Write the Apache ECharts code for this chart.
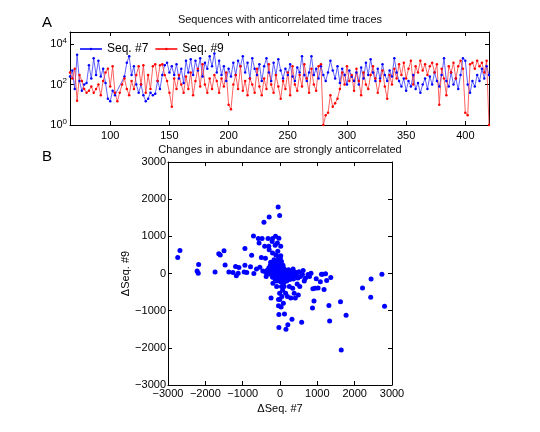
<!DOCTYPE html>
<html><head><meta charset="utf-8">
<script src="https://cdn.jsdelivr.net/npm/echarts@6/dist/echarts.min.js"></script>
<style>html,body{margin:0;padding:0;background:#fff}#c{width:540px;height:432px}</style>
</head><body><div id="c"></div>
<script>
// ---- Panel A: time traces ----
const time = [
  66,68,70,72,74,76,78,80,82,84,
  86,88,90,92,94,96,98,100,102,104,
  106,108,110,112,114,116,118,120,122,124,
  126,128,130,132,134,136,138,140,142,144,
  146,148,150,152,154,156,158,160,162,164,
  166,168,170,172,174,176,178,180,182,184,
  186,188,190,192,194,196,198,200,202,204,
  206,208,210,212,214,216,218,220,222,224,
  226,228,230,232,234,236,238,240,242,244,
  246,248,250,252,254,256,258,260,262,264,
  266,268,270,272,274,276,278,280,282,284,
  286,288,290,292,294,296,298,300,302,304,
  306,308,310,312,314,316,318,320,322,324,
  326,328,330,332,334,336,338,340,342,344,
  346,348,350,352,354,356,358,360,362,364,
  366,368,370,372,374,376,378,380,382,384,
  386,388,390,392,394,396,398,400,402,404,
  406,408,410,412,414,416,418,420
];
const seq7 = [
  250,500,60,3000,150,50,100,120,900,200,
  2000,300,1500,250,600,120,20,15,50,30,
  null,null,null,250,1200,2500,300,800,100,40,
  100,30,15,20,40,30,35,150,60,300,
  900,1200,400,800,300,1000,200,600,120,1500,
  400,1800,300,1500,500,2000,250,1200,600,2500,
  800,3500,400,1500,300,800,150,600,250,1200,
  300,1500,800,2500,400,1200,200,2000,600,300,
  1000,150,800,2000,400,150,1200,300,1800,500,
  200,600,300,1000,250,150,700,400,2500,300,
  150,400,2500,300,600,200,800,300,150,400,
  1500,500,200,800,120,600,300,100,500,250,
  150,400,100,700,200,1200,300,1800,400,150,
  600,200,1000,300,150,500,250,2000,400,150,
  80,200,50,150,80,300,60,120,40,100,
  200,60,250,100,400,150,80,300,2000,150,
  80,400,100,200,60,300,2000,1500,100,40,
  150,80,300,150,600,200,800,300
];
const seq9 = [
  400,200,600,16,300,150,60,40,50,80,
  40,60,100,30,150,400,600,80,800,40,
  15,40,100,200,60,30,150,60,300,800,
  100,900,40,300,60,800,1000,150,900,1000,
  300,150,40,8,200,60,300,100,40,250,
  60,400,30,150,600,80,1000,100,40,200,
  60,300,150,40,200,80,400,10,6,100,
  300,60,800,50,150,30,200,100,40,600,
  80,30,200,60,1000,100,40,300,80,20,
  150,60,400,30,800,100,50,300,80,1000,
  200,40,600,100,50,800,1000,1,3,4,
  30,8,12,20,60,400,100,800,150,300,
  50,600,150,30,400,100,60,300,800,200,
  40,150,500,80,20,300,100,600,200,1000,
  300,1200,200,600,1500,100,800,400,1500,500,
  1000,300,800,1200,400,1000,10,600,200,30,
  800,400,1200,200,800,1500,600,4,3,1000,
  1200,600,1500,800,1200,400,1500,1
];
const timeTicks = [100,150,200,250,300,350,400];
const logTicks = [1,100,10000];

// ---- Panel B: changes in abundance ----
const dSeq7 = [
  -2740,-2680,-2180,-2220,-2190,-1740,-1640,-1600,-1500,-1470,-1370,-1260,-1190,-1170,-1100,-1120,
  -940,-940,-960,-890,-790,-760,-710,-700,-630,-580,-560,-540,-500,-480,-460,-430,-410,-390,-380,-370,
  -320,-300,-290,-290,-260,-240,-220,-210,-200,-200,-190,-170,-160,-150,-130,-120,-120,-110,-100,-90,
  -80,-70,-60,-50,-40,-40,-30,-10,-40,-30,-30,-10,0,10,20,30,40,40,50,60,80,90,100,110,120,130,150,160,
  180,200,210,230,250,270,290,300,320,340,350,380,390,410,430,460,490,510,530,550,580,620,680,750,790,
  830,870,880,910,940,970,1020,1080,1110,1140,1180,1220,1250,1310,1330,1360,1620,1640,1770,2210,2440,
  2430,2730,2800,
  -350,-320,-300,-280,-260,-250,-230,-210,-200,-190,-180,-160,-150,-140,-130,-120,-110,-100,-90,-80,
  -70,-60,-50,-40,-30,-20,-20,-10,0,10,20,30,40,50,60,70,80,90,100,120,140,160,180,200,220,240,260,280,
  320,360,400,440,480,600,650,-20,20,-60,70,-5,30,-40
];
const dSeq9 = [
  430,620,240,70,10,40,530,500,610,230,40,30,190,-60,160,10,
  670,220,40,30,180,490,1010,0,120,940,820,170,430,940,70,1380,730,410,30,-80,
  940,730,1520,640,220,-660,120,860,940,550,-260,140,370,-30,760,120,1000,500,10,-350,
  280,820,100,1790,410,-170,950,1560,-870,-1100,-1450,-530,210,-80,730,50,-350,320,-620,-10,-130,-800,140,-350,-1090,-60,-530,-1500,
  40,-620,-1380,100,-350,-80,-660,50,-1230,-400,120,-530,-80,-660,10,-280,-580,50,-350,-80,-1310,80,-130,-30,-80,
  10,-930,-410,-740,-400,-140,-390,-220,-20,-20,-430,-10,-190,-860,-1280,-110,-760,-2060,-1120,-390,-150,
  -640,-20,-880,
  80,20,150,60,-20,300,40,200,-100,90,30,-50,220,60,-150,300,-80,150,40,-200,
  200,-40,330,80,-120,250,20,-60,120,400,-220,150,-20,80,-150,30,220,-40,-250,60,-120,90,-200,10,-90,60,-160,20,
  -40,-150,40,-40,-120,-30,-200,450,480,600,-450,-700,-900,-700
];

const FONT = '"Liberation Sans", Arial, Helvetica, sans-serif';
const chart = echarts.init(document.getElementById('c'));
const minusFmt = v => String(v).replace('-', '\u2212');
const supFmt = v => {
  const l = Math.log10(v), e = Math.round(l);
  if (Math.abs(l - e) > 1e-6) return '';
  return '10{s|' + e + '}';
};
const axisLineStyle = {color: '#000', width: 1};
const axisLine = {onZero: false, lineStyle: axisLineStyle};
const labelStyle = {color: '#000', fontSize: 11, fontFamily: FONT};

const pts7 = time.map((t, i) => [t, seq7[i]]).filter(d => d[1] != null);
const pts9 = time.map((t, i) => [t, seq9[i]]).filter(d => d[1] != null);
const scatterPts = dSeq7.map((x, i) => [x, dSeq9[i]]);

const option = {
  animation: false,
  backgroundColor: '#fff',
  textStyle: {fontFamily: FONT},
  graphic: [
    {type: 'text', x: 47, y: 23, style: {text: 'A', font: '15px ' + FONT, fill: '#000', textAlign: 'center', textVerticalAlign: 'middle'}},
    {type: 'text', x: 47, y: 157, style: {text: 'B', font: '15px ' + FONT, fill: '#000', textAlign: 'center', textVerticalAlign: 'middle'}},
    {type: 'text', x: 280, y: 20, style: {text: 'Sequences with anticorrelated time traces', font: '11px ' + FONT, fill: '#111', textAlign: 'center', textVerticalAlign: 'middle'}},
    {type: 'text', x: 280, y: 150, style: {text: 'Changes in abundance are strongly anticorrelated', font: '11px ' + FONT, fill: '#111', textAlign: 'center', textVerticalAlign: 'middle'}}
  ],
  legend: {
    left: 74, top: 38, itemWidth: 22, itemHeight: 3, itemGap: 6,
    textStyle: {fontSize: 12, color: '#000', fontFamily: FONT},
    data: ['Seq. #7', 'Seq. #9']
  },
  grid: [
    {left: 70, top: 32, width: 419, height: 93},
    {left: 168, top: 162, width: 224, height: 223}
  ],
  xAxis: [
    {gridIndex: 0, type: 'value', min: 66, max: 420,
     axisLine: axisLine, splitLine: {show: false},
     axisTick: {inside: true, length: 4, lineStyle: axisLineStyle, customValues: timeTicks},
     axisLabel: Object.assign({margin: 5, customValues: timeTicks}, labelStyle)},
    {gridIndex: 0, type: 'value', position: 'top', min: 66, max: 420,
     axisLine: axisLine, splitLine: {show: false},
     axisTick: {inside: true, length: 4, lineStyle: axisLineStyle, customValues: timeTicks},
     axisLabel: {show: false}},
    {gridIndex: 1, type: 'value', min: -3000, max: 3000, interval: 1000,
     name: '\u0394Seq. #7', nameLocation: 'middle', nameGap: 14,
     nameTextStyle: {fontSize: 11, color: '#000', fontFamily: FONT},
     axisLine: axisLine, splitLine: {show: false},
     axisTick: {inside: true, length: 4, lineStyle: axisLineStyle},
     axisLabel: Object.assign({margin: 3, formatter: minusFmt}, labelStyle)},
    {gridIndex: 1, type: 'value', position: 'top', min: -3000, max: 3000, interval: 1000,
     axisLine: axisLine, splitLine: {show: false},
     axisTick: {inside: true, length: 4, lineStyle: axisLineStyle},
     axisLabel: {show: false}}
  ],
  yAxis: [
    {gridIndex: 0, type: 'log', logBase: 10, min: 1, max: 40000,
     axisLine: axisLine, splitLine: {show: false},
     axisTick: {inside: true, length: 4, lineStyle: axisLineStyle, customValues: logTicks},
     axisLabel: Object.assign({margin: 3, formatter: supFmt, customValues: logTicks,
       rich: {s: {fontSize: 8, padding: [0, 0, 7, 0], color: '#000', fontFamily: FONT}}}, labelStyle)},
    {gridIndex: 0, type: 'log', logBase: 10, min: 1, max: 40000, position: 'right',
     axisLine: axisLine, splitLine: {show: false},
     axisTick: {inside: true, length: 4, lineStyle: axisLineStyle, customValues: logTicks},
     axisLabel: {show: false}},
    {gridIndex: 1, type: 'value', min: -3000, max: 3000, interval: 1000,
     name: '\u0394Seq. #9', nameLocation: 'middle', nameGap: 37,
     nameTextStyle: {fontSize: 11, color: '#000', fontFamily: FONT},
     axisLine: axisLine, splitLine: {show: false},
     axisTick: {inside: true, length: 4, lineStyle: axisLineStyle},
     axisLabel: Object.assign({margin: 2, formatter: minusFmt}, labelStyle)},
    {gridIndex: 1, type: 'value', position: 'right', min: -3000, max: 3000, interval: 1000,
     axisLine: axisLine, splitLine: {show: false},
     axisTick: {inside: true, length: 4, lineStyle: axisLineStyle},
     axisLabel: {show: false}}
  ],
  series: [
    {name: 'Seq. #7', type: 'line', xAxisIndex: 0, yAxisIndex: 0, data: pts7,
     symbol: 'circle', symbolSize: 2.5, showAllSymbol: true, connectNulls: true,
     lineStyle: {color: '#3a3aff', width: 0.8}, itemStyle: {color: '#0000ff'}},
    {name: 'Seq. #9', type: 'line', xAxisIndex: 0, yAxisIndex: 0, data: pts9,
     symbol: 'circle', symbolSize: 2.5, showAllSymbol: true, connectNulls: true,
     lineStyle: {color: '#ff3a3a', width: 0.8}, itemStyle: {color: '#ff0000'}},
    {name: 'delta', type: 'scatter', xAxisIndex: 2, yAxisIndex: 2, data: scatterPts,
     symbol: 'circle', symbolSize: 5, itemStyle: {color: '#0000ff', opacity: 1}}
  ]
};
chart.setOption(option);
</script>
</body></html>
